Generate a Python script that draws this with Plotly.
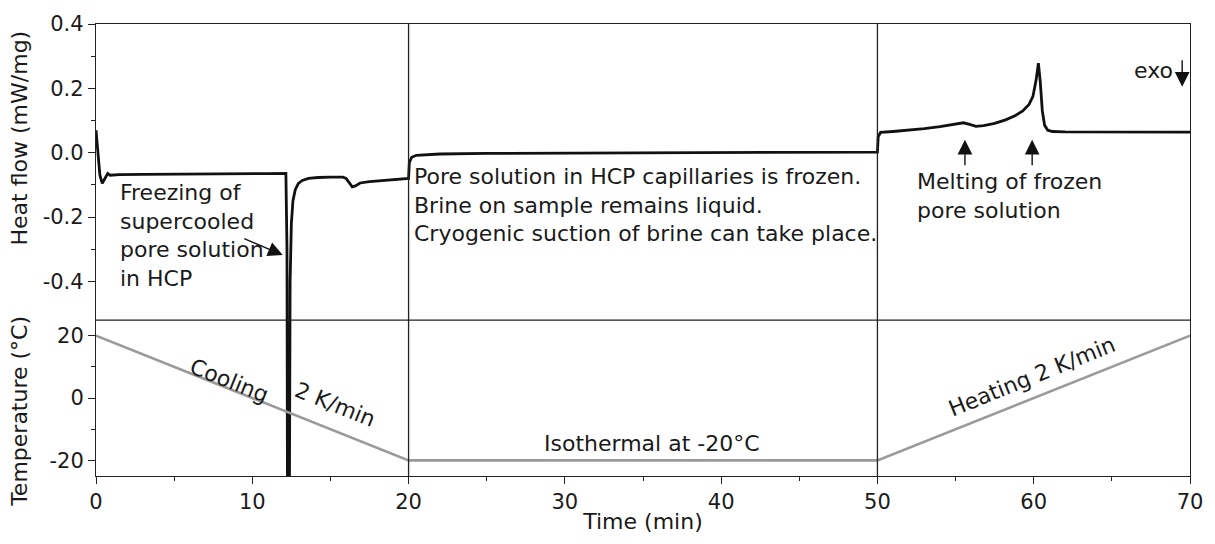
import plotly.graph_objects as go

# Heat flow (mW/mg) vs time (min)
hf_time = [0.0, 0.1, 0.25, 0.4, 0.55, 0.75, 0.9, 1.1, 1.5, 3, 6, 9, 11, 12.15, 12.22, 12.26, 12.36, 12.42, 12.5, 12.6, 12.75, 12.95, 13.2, 13.6, 14.2, 15.0, 15.8, 16.0, 16.2, 16.4, 16.6, 16.9, 17.5, 18.5, 19.95,
           20.0, 20.05, 20.2, 20.5, 21.0, 22.0, 25, 30, 35, 40, 45, 49.95,
           50.0, 50.05, 50.2, 51, 52, 53, 54, 55, 55.5, 55.9, 56.3, 56.8, 57.5, 58.2, 58.8, 59.3, 59.7, 59.95, 60.15, 60.3, 60.42, 60.55, 60.7, 60.9, 61.2, 62, 65, 68, 70]
hf_value = [0.07, 0.02, -0.07, -0.095, -0.08, -0.065, -0.07, -0.07, -0.068, -0.067, -0.067, -0.066, -0.065, -0.064, -0.3, -1.3, -1.3, -0.4, -0.22, -0.15, -0.115, -0.095, -0.086, -0.08, -0.077, -0.076, -0.076, -0.08, -0.095, -0.106, -0.103, -0.094, -0.09, -0.086, -0.081,
            -0.08, -0.03, -0.014, -0.008, -0.006, -0.004, -0.002, -0.001, 0.0, 0.0, 0.001, 0.002,
            0.002, 0.05, 0.063, 0.066, 0.07, 0.075, 0.081, 0.089, 0.093, 0.088, 0.082, 0.084, 0.091, 0.102, 0.115, 0.13, 0.15, 0.175, 0.225, 0.278, 0.22, 0.13, 0.085, 0.07, 0.066, 0.065, 0.065, 0.064, 0.064]

# Temperature program (°C)
temp_time = [0, 20, 50, 70]
temp_value = [20, -20, -20, 20]

x_ticks = [0, 10, 20, 30, 40, 50, 60, 70]
hf_ticks = [-0.4, -0.2, 0.0, 0.2, 0.4]
hf_ticklabels = ["-0.4", "-0.2", "0.0", "0.2", "0.4"]
hf_minor = [-0.3, -0.1, 0.1, 0.3]
t_ticks = [-20, 0, 20]
t_ticklabels = ["-20", "0", "20"]

FONT = "DejaVu Sans, Arial, sans-serif"
TXT = "#1a1a1a"
FS = 21      # tick labels
FA = 22      # annotations / titles

# geometry: top panel is upper 300/458 of plot height
frac_bottom = 158 / 458
hf_top, hf_div = 0.4, -0.52
hf_bottom = hf_top - (hf_top - hf_div) / (1 - frac_bottom)

fig = go.Figure()
fig.add_trace(go.Scatter(x=temp_time, y=temp_value, mode="lines", yaxis="y2",
                         line=dict(color="#9a9a9a", width=2.6), showlegend=False))
fig.add_trace(go.Scatter(x=hf_time, y=hf_value, mode="lines",
                         line=dict(color="#111111", width=2.8), showlegend=False))

fig.update_layout(
    width=1215, height=544,
    margin=dict(l=96, r=25, t=18, b=68),
    paper_bgcolor="white", plot_bgcolor="rgba(0,0,0,0)",
    font=dict(family=FONT, size=FS, color=TXT),
    xaxis=dict(range=[0, 70], tickvals=x_ticks, ticks="outside", ticklen=7, tickwidth=1.3,
               tickcolor="#222", showline=True, linecolor="#222", linewidth=1.3, mirror=True,
               showgrid=False, zeroline=False,
               minor=dict(tickvals=[5, 15, 25, 35, 45, 55, 65], ticks="outside", ticklen=4, tickwidth=1.2, tickcolor="#222"),
               title=dict(text="Time (min)", standoff=0, font=dict(size=FA))),
    yaxis=dict(domain=[0, 1], range=[hf_bottom, hf_top], tickvals=hf_ticks, ticktext=hf_ticklabels,
               ticks="outside", ticklen=7, tickwidth=1.3, tickcolor="#222",
               showline=True, linecolor="#222", linewidth=1.3, mirror=True,
               showgrid=False, zeroline=False,
               minor=dict(tickvals=hf_minor, ticks="outside", ticklen=4, tickwidth=1.2, tickcolor="#222")),
    yaxis2=dict(domain=[0, frac_bottom], range=[-25, 25], anchor="x", tickvals=t_ticks, ticktext=t_ticklabels,
                ticks="outside", ticklen=7, tickwidth=1.3, tickcolor="#222",
                showline=False, showgrid=False, zeroline=False,
                minor=dict(tickvals=[-10, 10], ticks="outside", ticklen=4, tickwidth=1.2, tickcolor="#222")),
)

# frame dividers
fig.add_shape(type="line", xref="paper", yref="paper", x0=0, x1=1, y0=frac_bottom, y1=frac_bottom,
              line=dict(color="#222", width=1.3))
for xv in [20, 50]:
    fig.add_shape(type="line", xref="x", yref="paper", x0=xv, x1=xv, y0=0, y1=1,
                  line=dict(color="#222", width=1.3))

# axis titles
fig.add_annotation(text="Heat flow (mW/mg)", xref="paper", yref="paper", x=-0.0695, y=1 - 115 / 458,
                   textangle=-90, showarrow=False, font=dict(size=FA), xanchor="center", yanchor="middle")
fig.add_annotation(text="Temperature (°C)", xref="paper", yref="paper", x=-0.0695, y=(476 - 410) / 458,
                   textangle=-90, showarrow=False, font=dict(size=FA), xanchor="center", yanchor="middle")

ARROW = dict(showarrow=True, arrowhead=2, arrowsize=2.1, arrowwidth=1.4, arrowcolor="#111", text="")

# text annotations
fig.add_annotation(text="Freezing of<br>supercooled<br>pore solution<br>in HCP", x=1.4, y=-0.078,
                   xanchor="left", yanchor="top", align="left", showarrow=False, font=dict(size=FA))
fig.add_annotation(x=11.95, y=-0.318, ax=-40, ay=-17, **ARROW)
fig.add_annotation(text="Pore solution in HCP capillaries is frozen.<br>Brine on sample remains liquid.<br>Cryogenic suction of brine can take place.",
                   x=20.25, y=-0.03, xanchor="left", yanchor="top", align="left", showarrow=False, font=dict(size=FA))
fig.add_annotation(text="Melting of frozen<br>pore solution", x=52.4, y=-0.045, xanchor="left", yanchor="top",
                   align="left", showarrow=False, font=dict(size=FA))
for xa in [55.6, 59.9]:
    fig.add_annotation(x=xa, y=0.04, ax=0, ay=27, **ARROW)
fig.add_annotation(text="exo", x=67.65, y=0.257, xanchor="center", yanchor="middle", showarrow=False, font=dict(size=FA))
fig.add_annotation(x=69.5, y=0.205, ax=0, ay=-28, **ARROW)

fig.add_annotation(text="Cooling", x=8.5, y=5.5, yref="y2", textangle=22, showarrow=False, font=dict(size=FA))
fig.add_annotation(text="2 K/min", x=15.3, y=-2.0, yref="y2", textangle=22, showarrow=False, font=dict(size=FA))
fig.add_annotation(text="Isothermal at -20°C", x=35.6, y=-14.5, yref="y2", showarrow=False, font=dict(size=FA))
fig.add_annotation(text="Heating 2 K/min", x=59.9, y=7.0, yref="y2", textangle=-22, showarrow=False, font=dict(size=FA))

fig.write_html("out.html")
